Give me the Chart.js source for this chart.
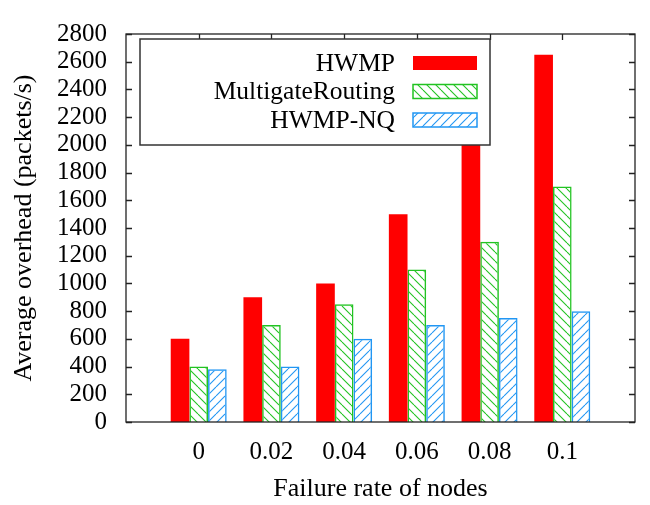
<!DOCTYPE html>
<html>
<head>
<meta charset="utf-8">
<script src="https://cdn.jsdelivr.net/npm/chart.js@4.4.1/dist/chart.umd.min.js"></script>
<style>
  body { margin: 0; background: #fff; }
  canvas { display: block; }
</style>
</head>
<body>
<canvas id="chart" width="650" height="505"></canvas>
<script>
const failureRates = ["0", "0.02", "0.04", "0.06", "0.08", "0.1"];
const hwmp = [600, 900, 1000, 1500, 2000, 2650];
const multigate = [400, 700, 850, 1100, 1300, 1700];
const hwmpNq = [380, 400, 600, 700, 750, 800];
const yMax = 2800;
const yStep = 200;

const RED = "#ff0000";
const GREEN = "#22c322";
const BLUE = "#2196f3";

// hatch fill, dir 1 = "\\\", dir -1 = "///"
function hatch(color, dir) {
  const s = 9;
  const c = document.createElement("canvas");
  c.width = s;
  c.height = s;
  const g = c.getContext("2d");
  g.strokeStyle = color;
  g.lineWidth = 1.1;
  for (let k = -1; k <= 1; k++) {
    g.beginPath();
    if (dir > 0) {
      g.moveTo(k * s, 0);
      g.lineTo(k * s + s, s);
    } else {
      g.moveTo(k * s, s);
      g.lineTo(k * s + s, 0);
    }
    g.stroke();
  }
  return g.createPattern(c, "repeat");
}

// pad one empty slot on each side, like the original plot range
const labels = ["", ...failureRates, ""];
const pad = (arr) => [null, ...arr, null];

Chart.defaults.font.family = "'Liberation Serif', 'DejaVu Serif', serif";
Chart.defaults.color = "#000";

// frame with inward ticks
const framePlugin = {
  id: "frame",
  afterDatasetsDraw(chart) {
    const { ctx, chartArea: a, scales } = chart;
    const t = 6;
    ctx.save();
    ctx.strokeStyle = "#222";
    ctx.lineWidth = 1.3;
    ctx.strokeRect(a.left, a.top, a.right - a.left, a.bottom - a.top);
    ctx.beginPath();
    scales.y.ticks.forEach((tk) => {
      const y = Math.round(scales.y.getPixelForValue(tk.value)) + 0.5;
      ctx.moveTo(a.left, y);
      ctx.lineTo(a.left + t, y);
      ctx.moveTo(a.right, y);
      ctx.lineTo(a.right - t, y);
    });
    for (let i = 1; i <= failureRates.length; i++) {
      const x = Math.round(scales.x.getPixelForValue(i)) + 0.5;
      ctx.moveTo(x, a.top);
      ctx.lineTo(x, a.top + t);
    }
    ctx.stroke();
    ctx.restore();
  },
};

// gnuplot style key: text right aligned, swatch on the right
const keyPlugin = {
  id: "key",
  afterDraw(chart) {
    const { ctx, chartArea: a } = chart;
    const bx = a.left + 14, by = a.top + 5, bw = 350, bh = 106;
    ctx.save();
    ctx.fillStyle = "#fff";
    ctx.fillRect(bx, by, bw, bh);
    ctx.strokeStyle = "#333";
    ctx.lineWidth = 1.5;
    ctx.strokeRect(bx, by, bw, bh);
    ctx.font = "25.5px 'Liberation Serif', serif";
    ctx.textAlign = "right";
    ctx.textBaseline = "middle";
    chart.data.datasets.forEach((ds, i) => {
      const cy = by + 24 + i * 28.5;
      ctx.fillStyle = "#000";
      ctx.fillText(ds.label, bx + 255, cy + 1);
      const sx = bx + 273, sw = 64, sh = 14;
      ctx.fillStyle = ds.backgroundColor;
      ctx.fillRect(sx, cy - sh / 2, sw, sh);
      if (ds.borderWidth) {
        ctx.strokeStyle = ds.borderColor;
        ctx.lineWidth = 1.5;
        ctx.strokeRect(sx, cy - sh / 2, sw, sh);
      }
    });
    ctx.restore();
  },
};

new Chart(document.getElementById("chart"), {
  type: "bar",
  data: {
    labels: labels,
    datasets: [
      {
        label: "HWMP",
        data: pad(hwmp),
        backgroundColor: RED,
        borderWidth: 0,
      },
      {
        label: "MultigateRouting",
        data: pad(multigate),
        backgroundColor: hatch(GREEN, 1),
        borderColor: GREEN,
        borderWidth: 1.5,
      },
      {
        label: "HWMP-NQ",
        data: pad(hwmpNq),
        backgroundColor: hatch(BLUE, -1),
        borderColor: BLUE,
        borderWidth: 1.5,
      },
    ],
  },
  options: {
    responsive: false,
    animation: false,
    devicePixelRatio: 1,
    layout: { padding: { top: 19, right: 5, left: 0, bottom: 0 } },
    datasets: {
      bar: { categoryPercentage: 0.77, barPercentage: 1.0 },
    },
    plugins: {
      legend: { display: false },
      tooltip: { enabled: false },
    },
    scales: {
      x: {
        offset: false,
        grid: { display: false, drawTicks: false },
        border: { display: false },
        ticks: {
          font: { size: 25 },
          padding: 15,
          autoSkip: false,
          maxRotation: 0,
        },
        title: {
          display: true,
          text: "Failure rate of nodes",
          font: { size: 26 },
          padding: { top: 0, bottom: 0 },
        },
        afterFit(s) { s.height = 83; },
      },
      y: {
        min: 0,
        max: yMax,
        grid: { display: false, drawTicks: false },
        border: { display: false },
        ticks: {
          stepSize: yStep,
          autoSkip: false,
          font: { size: 25 },
          padding: 19,
          callback: (v) => String(v),
        },
        title: {
          display: true,
          text: "Average overhead (packets/s)",
          font: { size: 26 },
          padding: { top: 9, bottom: 0 },
        },
        afterFit(s) { s.width = 126; },
      },
    },
  },
  plugins: [framePlugin, keyPlugin],
});
</script>
</body>
</html>
